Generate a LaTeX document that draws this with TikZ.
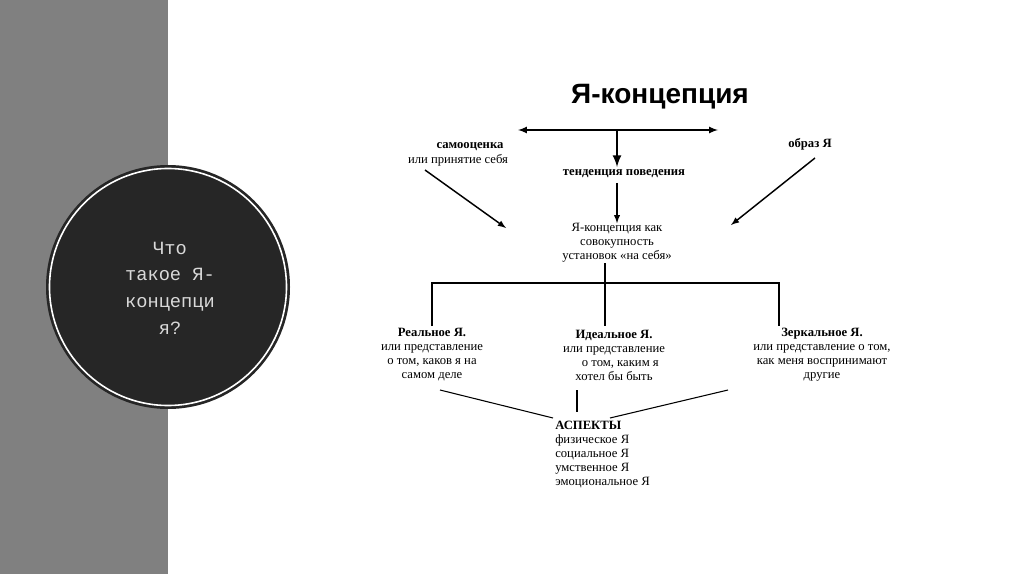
\documentclass[tikz,border=0pt]{standalone}
\usepackage{fontspec}
\setmainfont{Liberation Serif}
\newfontfamily\titlefont{Liberation Sans}
\newfontfamily\monofont{Liberation Mono}
\begin{document}
\begin{tikzpicture}[x=0.75pt,y=-0.75pt,
  lbl/.style={inner sep=0pt,font=\fontsize{9.5}{10.5}\selectfont,align=center},
  bl/.style={lbl,font=\fontsize{9.5}{10.5}\selectfont\bfseries},
  ln/.style={line width=0.8pt},
  ar/.style={line width=1.1pt,-latex}]
\useasboundingbox (0,0) rectangle (1024,574);
\fill[white] (0,0) rectangle (1024,574);
\fill[gray!95!black,fill=gray] (0,0) rectangle (168,574);
\fill[black!85] (168,287) circle (122);
\draw[white,line width=1.2pt] (168,287) circle (118.5);
\node[text=white!85!black,font=\monofont\fontsize{14}{20}\selectfont,align=center] (q) at (170,288) {Что\\такое Я-\\концепци\\я?};
\node[font=\titlefont\bfseries\fontsize{21}{24}\selectfont,inner sep=0pt] (t) at (660,97) {Я-концепция};
\coordinate (hl) at (518,130); \coordinate (hr) at (718,130); \coordinate (hm) at (617,130);
\draw[line width=1.3pt,latex-latex] (hl) -- (hr);
\node[bl] (ten) at (624,174) {тенденция поведения};
\draw[line width=2pt,-latex] (hm) -- (617,167);
\node[bl] (sam) at (470,147) {самооценка};
\node[lbl] (sam2) at (458,160) {или принятие себя};
\node[bl] (obr) at (810,144) {образ Я};
\node[lbl] (c) at (617,243) {Я-концепция как\\совокупность\\установок «на себя»};
\draw[ar] (617,183) -- (c.north -| 617,0);
\draw[ar] (425,170) -- (506,228);
\draw[ar] (815,158) -- (731,225);
\node[lbl,align=center] (r) at (432,355) {\textbf{Реальное Я.}\\или представление\\о том, каков я на\\самом деле};
\node[lbl,align=center] (i) at (614,355) {\textbf{Идеальное Я.}\\или представление\\\quad о том, каким я\\хотел бы быть};
\node[lbl,align=center] (m) at (822,355) {\textbf{Зеркальное Я.}\\или представление о том,\\как меня воспринимают\\другие};
\coordinate (j) at (605,283);
\draw[ln] (605,263) -- (605,326);
\draw[ln] (432,326) -- (432,283) -- (779,283) -- (779,326);
\node[lbl,align=left,anchor=north west] (a) at (555,421) {\textbf{АСПЕКТЫ}\\физическое Я\\социальное Я\\умственное Я\\эмоциональное Я};
\draw[ln] (440,390) -- (553,418);
\draw[ln] (577,390) -- (577,412);
\draw[ln] (728,390) -- (610,418);
\end{tikzpicture}
\end{document}
